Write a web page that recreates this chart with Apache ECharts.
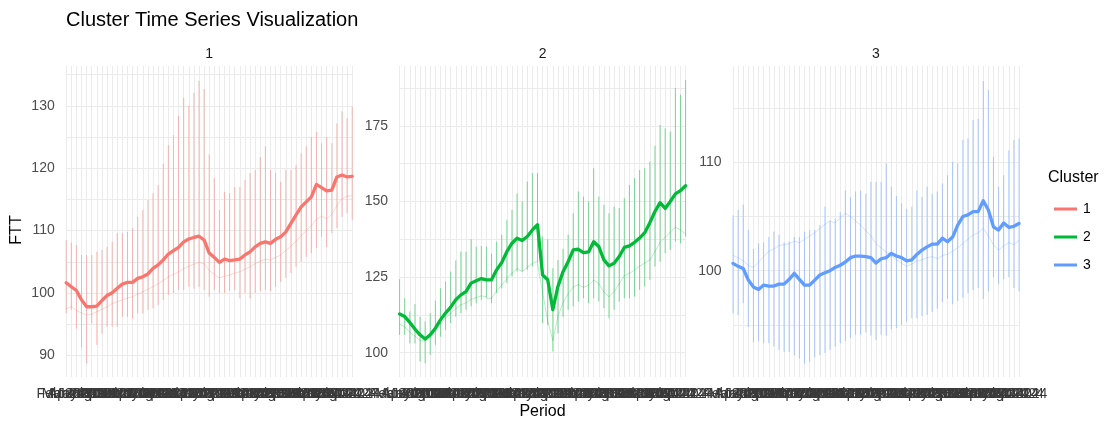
<!DOCTYPE html>
<html>
<head>
<meta charset="utf-8">
<script src="https://cdn.jsdelivr.net/npm/echarts@6/dist/echarts.min.js"></script>
<style>
  html, body { margin: 0; padding: 0; background: #ffffff; }
  #chart { width: 1110px; height: 423px; }
</style>
</head>
<body>
<div id="chart"></div>
<script>
// Monthly periods shared by all three facets
const periods = [
  'Feb 2020','Mar 2020','Apr 2020','May 2020','Jun 2020','Jul 2020','Aug 2020','Sep 2020','Oct 2020','Nov 2020','Dec 2020',
  'Jan 2021','Feb 2021','Mar 2021','Apr 2021','May 2021','Jun 2021','Jul 2021','Aug 2021','Sep 2021','Oct 2021','Nov 2021','Dec 2021',
  'Jan 2022','Feb 2022','Mar 2022','Apr 2022','May 2022','Jun 2022','Jul 2022','Aug 2022','Sep 2022','Oct 2022','Nov 2022','Dec 2022',
  'Jan 2023','Feb 2023','Mar 2023','Apr 2023','May 2023','Jun 2023','Jul 2023','Aug 2023','Sep 2023','Oct 2023','Nov 2023','Dec 2023',
  'Jan 2024','Feb 2024','Mar 2024','Apr 2024','May 2024','Jun 2024','Jul 2024','Aug 2024','Sep 2024','Oct 2024'
];

// Cluster 1: cluster mean, member maximum, member minimum, member path level
const cluster1Mean = [101.65,101.0,100.4,98.9,97.8,97.8,97.9,98.8,99.6,100.05,
  100.75,101.45,101.7,101.7,102.35,102.6,103.05,103.95,104.5,105.3,
  106.25,106.8,107.3,108.2,108.65,108.9,109.1,108.5,106.4,105.7,
  104.9,105.45,105.2,105.3,105.45,106.1,106.6,107.4,107.95,108.2,
  107.95,108.6,109.0,109.8,111.15,112.5,113.8,114.6,115.4,117.4,
  116.9,116.35,116.5,118.6,118.9,118.6,118.7];
const cluster1High = [108.5,108.1,107.7,106.1,106.1,106.1,106.6,106.9,107.4,108.2,
  109.6,109.6,109.8,110.4,112.2,113.3,114.9,116.0,117.3,120.7,
  123.7,125.3,128.4,131.3,130.0,132.1,134.0,132.7,122.2,118.4,
  113.3,116.2,116.0,117.0,117.0,118.1,119.2,119.7,121.8,123.5,
  119.7,119.2,117.8,119.7,119.7,120.5,122.4,123.5,125.0,125.8,
  124.0,125.0,124.0,127.2,129.1,128.0,129.85];
const cluster1Low = [96.75,97.3,94.3,91.3,88.7,95.1,91.7,93.5,94.6,94.6,
  94.6,96.2,96.2,95.9,96.75,96.75,97.3,97.55,98.1,98.9,
  99.7,100.0,100.5,100.5,101.0,100.7,101.0,100.5,99.4,100.5,
  100.0,100.0,100.3,100.5,99.15,100.0,99.15,100.0,100.3,100.5,
  100.3,101.0,101.8,102.4,103.2,104.2,105.0,105.8,106.4,107.2,
  109.0,107.4,109.6,110.4,112.2,112.8,111.7];
const cluster1Mid = [97.5,97.8,97.2,96.8,96.5,96.6,97.0,97.4,97.8,98.3,
  98.6,98.9,99.2,99.4,99.8,100.2,100.6,101.0,101.5,102.0,
  102.6,103.0,103.4,103.9,104.3,104.6,104.9,104.7,103.6,103.0,
  102.4,102.7,102.9,103.2,103.4,103.8,104.2,104.7,105.1,105.4,
  105.3,105.7,106.1,106.8,107.5,108.3,109.2,110.0,110.8,111.8,
  112.3,111.9,112.6,114.0,115.1,115.5,115.6];

// Cluster 2
const cluster2Mean = [112.8,111.95,110.0,107.8,105.9,104.5,105.9,108.1,110.85,113.1,
  115.05,117.5,119.1,120.2,123.0,123.8,124.5,124.1,124.1,127.4,
  129.8,133.4,136.2,137.85,137.1,138.4,140.6,142.3,125.7,124.1,
  114.2,121.9,126.8,130.1,134.0,134.2,133.1,133.3,136.7,135.1,
  130.7,128.7,129.6,131.8,134.8,135.3,136.5,137.9,139.7,143.0,
  146.7,149.6,147.7,150.0,152.5,153.6,155.2];
const cluster2High = [124.3,118.0,113.6,116.1,111.9,110.3,113.1,117.2,121.3,123.5,
  126.8,130.5,133.4,133.4,137.5,135.1,135.3,135.1,132.7,136.7,
  139.0,143.9,147.2,152.7,150.0,156.6,159.4,159.4,138.4,137.5,
  127.9,130.7,134.3,139.0,146.1,153.3,151.6,150.0,161.0,151.6,
  148.9,146.1,148.3,147.8,151.1,155.5,157.7,160.4,161.0,163.2,
  168.4,175.3,174.2,173.1,187.5,185.3,190.2];
const cluster2Low = [105.9,105.9,103.1,103.1,97.1,96.5,99.3,102.6,105.3,107.5,
  109.8,111.9,113.1,114.2,115.3,116.4,117.5,118.0,116.4,119.7,
  121.3,123.0,125.2,126.8,126.8,127.4,128.5,129.6,109.8,109.2,
  100.4,106.4,111.9,114.2,115.3,116.9,118.0,116.4,118.0,116.9,
  114.7,111.4,114.2,116.9,118.0,118.0,118.6,120.8,121.9,124.1,
  128.5,130.1,132.9,134.0,136.7,136.2,138.4];
const cluster2Mid = [109.5,108.5,106.8,105.5,104.0,103.8,105.0,107.2,109.5,111.5,
  113.0,114.5,115.8,116.5,117.6,118.2,118.8,118.5,118.0,120.5,
  122.3,124.5,126.3,127.8,126.9,128.2,129.5,130.2,120.0,110.5,
  104.0,112.0,116.5,119.5,121.8,122.5,121.6,122.3,124.0,122.9,
  120.0,118.5,120.2,122.8,125.5,126.2,127.3,128.6,129.7,130.6,
  133.5,136.5,138.2,139.8,141.5,140.6,139.2];

// Cluster 3
const cluster3Mean = [100.67,100.4,100.2,99.13,98.5,98.27,98.67,98.58,98.58,98.76,
  98.76,99.2,99.75,99.2,98.67,98.67,99.13,99.6,99.8,100.0,
  100.3,100.5,100.8,101.2,101.35,101.35,101.3,101.2,100.7,101.1,
  101.2,101.6,101.35,101.2,100.9,101.0,101.5,101.9,102.2,102.45,
  102.45,103.0,102.67,103.1,104.2,105.0,105.15,105.45,105.45,106.45,
  105.6,104.05,103.75,104.4,104.0,104.1,104.35];
const cluster3High = [105.1,105.6,106.1,103.75,102.0,102.5,102.6,103.1,103.6,103.3,
  102.6,102.7,103.1,103.1,103.6,103.75,103.75,104.2,105.9,104.4,
  104.8,105.4,107.4,106.8,107.3,107.4,107.1,108.2,108.2,108.2,
  109.9,107.75,106.9,106.2,105.7,105.9,107.4,106.8,107.75,107.1,
  107.3,108.05,108.8,110.05,109.9,112.06,112.2,113.9,114.0,117.5,
  116.7,110.5,107.75,108.8,111.1,112.06,112.2];
const cluster3Low = [96.06,95.9,97.0,94.8,93.4,93.5,93.3,93.3,93.0,92.7,
  92.5,92.5,92.2,91.9,91.4,91.6,92.0,92.2,92.4,92.7,
  93.0,93.3,93.5,93.8,94.1,94.1,94.3,94.0,93.6,94.1,
  94.0,94.6,94.7,95.0,95.3,95.6,95.6,95.8,95.9,96.2,
  96.5,97.1,97.4,96.9,97.2,97.5,97.9,98.2,98.4,97.4,
  98.1,99.4,98.8,99.2,99.4,98.4,98.1];
const cluster3Mid = [101.4,101.2,100.9,100.5,100.3,100.8,101.3,101.8,102.0,102.3,
  102.4,102.5,102.7,102.6,102.9,103.2,103.5,103.9,104.3,104.6,
  104.4,104.9,105.3,105.0,104.6,104.2,103.7,103.2,102.5,102.1,
  101.7,101.4,101.0,100.7,100.4,100.6,100.9,101.0,101.2,101.3,
  101.1,101.4,101.5,101.8,102.1,102.5,102.9,103.3,103.5,103.9,
  103.2,102.4,101.9,102.3,102.6,102.4,102.8];

// Y-axis tick labels and grid levels per facet
const ticks1 = [90, 100, 110, 120, 130];
const grid1 = [90, 95, 100, 105, 110, 115, 120, 125, 130, 135];
const ticks2 = [100, 125, 150, 175];
const grid2 = [100, 112.5, 125, 137.5, 150, 162.5, 175, 187.5];
const ticks3 = [100, 110];
const grid3 = [95, 100, 105, 110, 115];

const clusterNames = ['1', '2', '3'];
const clusterColors = ['#F8766D', '#00BA38', '#619CFF'];

const FONT = '"Liberation Sans", Arial, Helvetica, sans-serif';
const PANEL_TOP = 66, PANEL_H = 311, PANEL_W = 286;

const panels = [
  { left: 66.2, mean: cluster1Mean, high: cluster1High, low: cluster1Low, mid: cluster1Mid,
    yMin: 86.54, yMax: 136.38, ticks: ticks1, grid: grid1 },
  { left: 399.6, mean: cluster2Mean, high: cluster2High, low: cluster2Low, mid: cluster2Mid,
    yMin: 91.96, yMax: 194.8, ticks: ticks2, grid: grid2 },
  { left: 733.0, mean: cluster3Mean, high: cluster3High, low: cluster3Low, mid: cluster3Mid,
    yMin: 90.18, yMax: 118.9, ticks: ticks3, grid: grid3 }
];

// Zig-zag path through the member values of each period: level -> max -> min -> level
function memberPath(high, low, mid) {
  const pts = [];
  for (let i = 0; i < periods.length; i++) {
    pts.push([i, mid[i]], [i, high[i]], [i, low[i]], [i, mid[i]]);
  }
  return pts;
}

const grids = [], xAxes = [], yAxes = [], series = [], graphics = [];

panels.forEach((p, k) => {
  grids.push({ left: p.left, top: PANEL_TOP, width: PANEL_W, height: PANEL_H,
    containLabel: false, outerBoundsMode: 'none' });

  xAxes.push({
    type: 'category', gridIndex: k, data: periods, boundaryGap: false,
    axisLine: { show: false }, axisTick: { show: false },
    axisLabel: { interval: 0, fontSize: 14, color: '#3A3A3A', fontFamily: FONT, margin: 10, hideOverlap: false },
    splitLine: { show: true, interval: 0, lineStyle: { color: '#EBEBEB', width: 1 } }
  });

  yAxes.push({
    type: 'value', gridIndex: k, min: p.yMin, max: p.yMax,
    axisLine: { show: false },
    axisTick: { show: false, customValues: p.grid },
    axisLabel: { customValues: p.ticks, fontSize: 14, color: '#4D4D4D', fontFamily: FONT, margin: 11.5 },
    splitLine: { show: true, lineStyle: { color: '#EBEBEB', width: 1 } }
  });

  series.push({
    name: 'members ' + clusterNames[k], type: 'line', xAxisIndex: k, yAxisIndex: k,
    data: memberPath(p.high, p.low, p.mid),
    symbol: 'none', showSymbol: false, silent: true, animation: false,
    emphasis: { disabled: true },
    lineStyle: { color: clusterColors[k], width: 0.9, opacity: 0.3 },
    z: 2
  });

  series.push({
    name: clusterNames[k], type: 'line', xAxisIndex: k, yAxisIndex: k,
    data: p.mean, symbol: 'none', showSymbol: false, silent: true, animation: false,
    emphasis: { disabled: true },
    itemStyle: { color: clusterColors[k] },
    lineStyle: { color: clusterColors[k], width: 3.3, cap: 'round', join: 'round' },
    z: 3
  });

  // facet strip label
  graphics.push({
    type: 'text', x: p.left + PANEL_W / 2, y: 54,
    style: { text: clusterNames[k], font: '14px ' + FONT, fill: '#1A1A1A', align: 'center', verticalAlign: 'middle' }
  });
});

graphics.push(
  { type: 'text', x: 17, y: 230, rotation: Math.PI / 2,
    style: { text: 'FTT', font: '16px ' + FONT, fill: '#000', align: 'center', verticalAlign: 'middle' } },
  { type: 'text', x: 542.5, y: 412,
    style: { text: 'Period', font: '16px ' + FONT, fill: '#000', align: 'center', verticalAlign: 'middle' } },
  { type: 'text', x: 1048, y: 178,
    style: { text: 'Cluster', font: '16px ' + FONT, fill: '#000', align: 'left', verticalAlign: 'middle' } }
);

const chart = echarts.init(document.getElementById('chart'), null, { renderer: 'canvas' });
chart.setOption({
  animation: false,
  backgroundColor: '#ffffff',
  title: {
    text: 'Cluster Time Series Visualization', left: 61, top: 5,
    textStyle: { fontSize: 20, fontWeight: 'normal', color: '#000', fontFamily: FONT }
  },
  legend: {
    data: clusterNames, orient: 'vertical', left: 1049, top: 197,
    icon: 'rect', itemWidth: 23, itemHeight: 3, itemGap: 14,
    selectedMode: false,
    textStyle: { fontSize: 14, color: '#000', fontFamily: FONT, padding: [0, 0, 0, 1] }
  },
  grid: grids,
  xAxis: xAxes,
  yAxis: yAxes,
  series: series,
  graphic: graphics
});
</script>
</body>
</html>
